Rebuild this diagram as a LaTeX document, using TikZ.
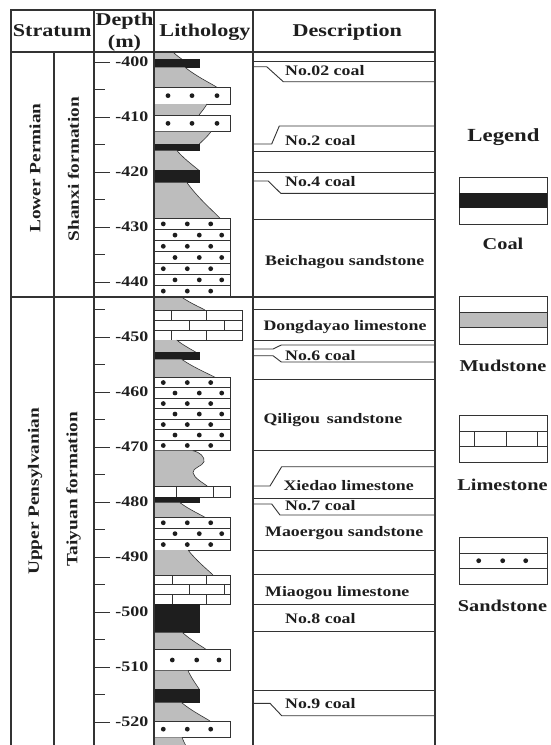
\documentclass[tikz,border=0pt]{standalone}
\usepackage{fontspec}
\setmainfont{Liberation Serif}[FakeStretch=1.23]
\definecolor{ink}{HTML}{1E1E1E}
\definecolor{mud}{HTML}{BDBDBD}
\definecolor{rulec}{HTML}{333333}
\tikzset{
  frame/.style={draw=rulec, line width=1.2pt},
  thinrule/.style={draw=rulec, line width=0.9pt},
  litho/.style={draw=rulec, line width=0.9pt, fill=white},
  coalfill/.style={draw=ink, line width=0.6pt, fill=ink},
  mudfill/.style={fill=mud},
  mudedge/.style={draw=rulec, line width=0.6pt},
  hdr/.style={font=\bfseries\fontsize{18}{20}\selectfont, text=ink, inner sep=0pt},
  dep/.style={font=\bfseries\fontsize{14.6}{16}\selectfont, text=ink, inner sep=0pt, anchor=base east},
  desc/.style={font=\bfseries\fontsize{14.5}{16}\selectfont, text=ink, inner sep=0pt, anchor=base west},
  vert/.style={font=\bfseries\fontsize{15.7}{17}\selectfont, text=ink, inner sep=0pt, rotate=90},
  leg/.style={font=\bfseries\fontsize{16.5}{18}\selectfont, text=ink, inner sep=0pt, anchor=base},
}
% ytop ybot xtop xbot
\newcommand{\mudL}[4]{%
  \fill[mudfill] (154,#1) -- (#3,#1) .. controls ({#3+0.35*(#4-#3)},{#1+0.45*(#2-#1)}) and ({#4-0.2*(#4-#3)},{#2-0.2*(#2-#1)}) .. (#4,#2) -- (154,#2) -- cycle;
  \draw[mudedge] (#3,#1) .. controls ({#3+0.35*(#4-#3)},{#1+0.45*(#2-#1)}) and ({#4-0.2*(#4-#3)},{#2-0.2*(#2-#1)}) .. (#4,#2);}
\newcommand{\coalL}[2]{\filldraw[coalfill] (154,#1) rectangle (199.3,#2);}
% ytop ybot dot-x-list
\newcommand{\sandR}[3]{%
  \draw[litho] (154,#1) rectangle (230.7,#2);
  \foreach \dx in {#3} \fill[ink] (\dx,{(#1+#2)/2}) circle (2.4pt);}
\newcommand{\sandA}[2]{\sandR{#1}{#2}{163.3,187.3,210.7}}
\newcommand{\sandB}[2]{\sandR{#1}{#2}{175,199.3,221.7}}
% ytop ybot xright vertical-x-list
\newcommand{\limeR}[4]{%
  \draw[litho] (154,#1) rectangle (#3,#2);
  \foreach \vx in {#4} \draw[thinrule] (\vx,#1) -- (\vx,#2);}
\begin{document}
\begin{tikzpicture}[x=1pt,y=-1pt]
\useasboundingbox (0,0) rectangle (550,745);
\fill[white] (0,0) rectangle (550,745);

% ---------- lithology column ----------
\mudL{52}{59.3}{173}{182}
\coalL{59.3}{67.3}
\mudL{67.3}{87.3}{185}{217}
\sandR{87.3}{104}{168,192,217}
\mudL{104}{115}{207}{199}
\sandR{115}{131.7}{168,192,217}
\mudL{131.7}{144}{211}{199.3}
\coalL{144}{150.7}
\mudL{150.7}{170.7}{177}{199.3}
\coalL{170.7}{182.7}
\mudL{182.7}{218.3}{187}{220}
% thick sandstone 218.3-296.7 (7 rows)
\sandA{218.3}{229.5}
\sandB{229.5}{240.7}
\sandA{240.7}{251.9}
\sandB{251.9}{263.1}
\sandA{263.1}{274.3}
\sandB{274.3}{285.5}
\sandA{285.5}{296.7}

\mudL{297.3}{310}{182}{205}
\limeR{310}{320}{242.3}{171.7,206.7}
\limeR{320}{330}{242.3}{189,224}
\limeR{330}{340}{242.3}{171.7,206.7}
\mudL{340}{352.7}{176.7}{196.7}
\coalL{352.7}{359.3}
\mudL{359.3}{377.3}{181.7}{215}
% sandstone 377.3-450.7 (7 rows)
\sandA{377.3}{387.8}
\sandB{387.8}{398.3}
\sandA{398.3}{408.8}
\sandB{408.8}{419.3}
\sandA{419.3}{429.8}
\sandB{429.8}{440.3}
\sandA{440.3}{450.7}
% wavy mudstone
\fill[mudfill] (154,450.7) -- (192.7,450.7) .. controls (200,452) and (205,457) .. (204,461.7)
  .. controls (203,466) and (192,468) .. (193,472.7) .. controls (194,478) and (202,482) .. (208,486.7) -- (154,486.7) -- cycle;
\draw[mudedge] (192.7,450.7) .. controls (200,452) and (205,457) .. (204,461.7)
  .. controls (203,466) and (192,468) .. (193,472.7) .. controls (194,478) and (202,482) .. (208,486.7);
\limeR{486.7}{497.7}{230.7}{176.7,213.3}
\coalL{497.7}{502.7}
\mudL{502.7}{517.3}{180}{205}
\sandA{517.3}{528.2}
\sandB{528.2}{539.1}
\sandA{539.1}{550}
\mudL{550}{575}{188}{213}
\limeR{575}{584.7}{230.7}{172.3,206.7}
\limeR{584.7}{594.4}{230.7}{189,224}
\limeR{594.4}{604}{230.7}{172.3,206.7}
\coalL{604}{632.7}
\mudL{632.7}{649.3}{182.7}{206}
\sandR{649.3}{670.7}{172.3,196.7,219}
\mudL{670.7}{689.3}{188}{199.3}
\coalL{689.3}{702.7}
\mudL{702.7}{721}{181.7}{210}
\sandA{721}{737.3}
\mudL{737.3}{746}{182}{186}

% ---------- depth scale ----------
\foreach \d in {400,410,...,520} {
  \draw[thinrule] (94,{62+5.5*(\d-400)}) -- (110,{62+5.5*(\d-400)});
  \node[dep] (d\d) at (148.5,{62+5.5*(\d-400)+4.8}) {-\d};
}
\foreach \d in {405,415,...,515} {
  \draw[thinrule] (94,{62+5.5*(\d-400)}) -- (105,{62+5.5*(\d-400)});
}

% ---------- description column ----------
\foreach \y in {61,151.7,172.7,219,309.3,340.7,379.3,450.7,498.3,550,574.3,604.3,631.7,690}
  \draw[thinrule] (253,\y) -- (435,\y);
\draw[thinrule] (253,66.7) -- (266.7,66.7) -- (283.3,81.7) -- (435,81.7);
\draw[thinrule] (253,144) -- (271.7,144) -- (279.3,126) -- (435,126);
\draw[thinrule] (253,181) -- (268.3,181) -- (280.7,193.3) -- (435,193.3);
\draw[thinrule] (253,349) -- (273,349) -- (281.3,345) -- (435,345);
\draw[thinrule] (253,355.7) -- (273,355.7) -- (281.3,362) -- (435,362);
\draw[thinrule] (253,486) -- (270,486) -- (281.7,466.7) -- (435,466.7);
\draw[thinrule] (253,504) -- (271.7,504) -- (280,515) -- (435,515);
\draw[thinrule] (253,703.3) -- (270,703.3) -- (281.7,715.7) -- (435,715.7);

\node[desc] (c02) at (285,75) {No.02 coal};
\node[desc] (c2) at (285,145) {No.2 coal};
\node[desc] (c4) at (285,186.7) {No.4 coal};
\node[desc] (bs) at (265,265) {Beichagou sandstone};
\node[desc] (dl) at (263.3,330) {Dongdayao limestone};
\node[desc] (c6) at (285,360) {No.6 coal};
\node[desc] (qs) at (263.3,423.3) {Qiligou\, sandstone};
\node[desc] (xl) at (283.3,490) {Xiedao limestone};
\node[desc] (c7) at (285,510.7) {No.7 coal};
\node[desc] (ms) at (265,536.7) {Maoergou sandstone};
\node[desc] (ml) at (265,596.7) {Miaogou limestone};
\node[desc] (c8) at (285,623.3) {No.8 coal};
\node[desc] (c9) at (285,708.3) {No.9 coal};

% ---------- stratum texts ----------
\node[vert] (lp) at (35,168) {Lower Permian};
\node[vert] (sf) at (73.5,169) {Shanxi formation};
\node[vert] (up) at (35,491.5) {Upper Pensylvanian};
\node[vert] (tf) at (73.5,489) {Taiyuan formation};

% ---------- header ----------
\node[hdr, anchor=base] (hs) at (52.2,36.7) {Stratum};
\node[hdr, anchor=base] (hd) at (124.5,25) {Depth};
\node[hdr, anchor=base] (hm) at (124.5,47.7) {(m)};
\node[hdr, anchor=base] (hl) at (205,36.7) {Lithology};
\node[hdr, anchor=base] (hde) at (347.3,36.7) {Description};

% ---------- frame ----------
\draw[frame] (11,746) -- (11,10) -- (435,10) -- (435,746);
\draw[frame] (11,52) -- (435,52);
\draw[frame] (54,52) -- (54,746);
\draw[frame] (94,10) -- (94,746);
\draw[frame] (154,10) -- (154,746);
\draw[frame] (253,10) -- (253,746);
\draw[frame] (11,297) -- (435,297);

% ---------- legend ----------
\node[font=\bfseries\fontsize{18.5}{20}\selectfont, text=ink, inner sep=0pt, anchor=base] (lg) at (503.5,141.7) {Legend};
\draw[thinrule] (459,177.7) rectangle (547,224.3);
\fill[ink] (459,192.7) rectangle (547,208.3);
\node[leg] (lc) at (503,249) {Coal};
\draw[thinrule, fill=mud] (459,312.7) rectangle (547,327.7);
\draw[thinrule] (459,296.7) rectangle (547,344);
\node[leg] (lm) at (503,371.7) {Mudstone};
\draw[thinrule] (459,415.7) rectangle (547,462.3);
\draw[thinrule] (459,431) -- (547,431);
\draw[thinrule] (459,446.7) -- (547,446.7);
\foreach \vx in {474,506.7,537.3} \draw[thinrule] (\vx,431) -- (\vx,446.7);
\node[leg] (ll) at (502.5,490.7) {Limestone};
\draw[thinrule] (459,537.3) rectangle (547,584);
\draw[thinrule] (459,553.3) -- (547,553.3);
\draw[thinrule] (459,568.3) -- (547,568.3);
\foreach \vx in {478.7,502.7,525.7} \fill[ink] (\vx,560.7) circle (2.4pt);
\node[leg] (ls) at (502.5,611.7) {Sandstone};
\end{tikzpicture}
\end{document}
